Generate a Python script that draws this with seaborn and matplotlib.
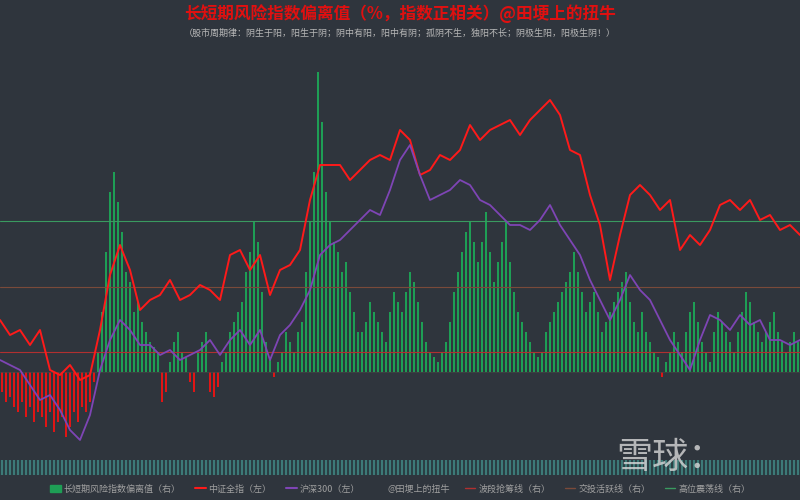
import numpy as np
import matplotlib
matplotlib.use("Agg")
import matplotlib.pyplot as plt
import seaborn as sns
from matplotlib.lines import Line2D
from matplotlib.patches import Patch

sns.set_style("dark")
plt.rcParams['font.family'] = ['Noto Sans CJK SC', 'DejaVu Sans']

BG = "#2f353d"
zz_all = [135,120,125,110,125,85,80,90,75,80,125,180,210,185,145,155,160,175,155,160,170,165,155,200,205,185,200,160,185,190,205,255,290,290,290,275,285,295,300,295,325,315,280,285,300,295,305,330,315,325,330,335,320,335,345,355,340,305,300,260,230,175,220,260,270,260,245,255,205,220,210,225,250,255,245,255,235,240,225,230,220]
hs300 = [95,90,85,70,55,60,45,25,15,40,85,115,135,125,110,110,100,105,95,100,105,115,100,115,125,110,125,95,120,130,145,165,200,210,215,225,235,245,240,265,295,310,280,255,260,265,275,270,255,250,240,230,230,225,235,250,230,215,200,175,155,135,155,180,165,155,135,115,100,85,115,140,135,125,140,130,135,115,115,110,115]
# Long/short risk deviation values (right axis)
deviation = [-20,-30,-25,-35,-40,-30,-45,-35,-50,-40,
             -45,-55,-40,-60,-50,-45,-65,-55,-40,-50,
             -35,-40,-30,-10,20,60,120,180,200,170,
             140,100,90,60,70,50,40,30,25,20,
             -30,-20,10,30,40,20,15,-10,-20,20,
             30,40,-20,-25,-15,10,20,40,50,60,
             70,100,120,150,130,80,30,15,-5,10,
             20,40,30,20,40,50,100,150,200,300,
             250,180,150,130,120,100,110,80,60,40,
             40,50,70,60,50,40,30,60,80,70,
             60,80,100,90,70,50,30,20,15,10,
             20,30,50,80,100,120,140,150,130,110,
             130,160,120,90,110,130,150,110,80,60,
             50,40,30,20,15,20,40,50,60,70,
             80,90,100,120,100,80,60,70,80,60,
             40,50,60,70,80,90,100,70,50,40,
             60,40,30,20,15,-5,10,20,40,30,
             20,40,60,70,50,30,20,10,40,60,
             50,40,30,20,40,60,80,70,50,40,
             30,40,50,60,40,30,20,30,40,30]
level_names = ["波段抢筹线（右）", "交投活跃线（右）", "高位震荡线（右）"]
level_values = [20, 85, 151]
level_colors = ["#b03030", "#7a4a3a", "#3a9a60"]

fig = plt.figure(figsize=(8, 5), dpi=100, facecolor=BG)
ax = fig.add_axes([0, 0.09, 1, 0.82], facecolor=BG)
ax2 = ax.twinx()

xb = np.arange(len(deviation))
dev = np.array(deviation)
cols = np.where(dev >= 0, "#1e9e55", "#e01515")
ax2.bar(xb, dev, width=0.6, color=cols, linewidth=0)
ax2.set_xlim(-0.5, len(deviation) - 0.5)
ax2.set_ylim(-83, 327)
for v, c in zip(level_values, level_colors):
    ax2.axhline(v, color=c, lw=0.8)
ax2.axhline(0, color="#444", lw=0.5)

xl = np.linspace(-0.5, len(deviation) - 0.5, len(zz_all))
sns.lineplot(x=xl, y=zz_all, ax=ax, color="#ff1a1a", lw=1.4, zorder=5)
sns.lineplot(x=xl, y=hs300, ax=ax, color="#7e45b5", lw=1.3, zorder=5)
ax.set_ylim(0, 410)
ax.set_xlim(-0.5, len(deviation) - 0.5)
ax.set_zorder(ax2.get_zorder() + 1)
ax.patch.set_visible(False)
for a in (ax, ax2):
    a.set_xticks([]); a.set_yticks([])
    for s in a.spines.values():
        s.set_visible(False)
    a.grid(False)

# slider strip
axs = fig.add_axes([0, 0.05, 1, 0.03], facecolor="#2b3f44")
axs.bar(xb, np.ones(len(xb)), width=0.3, color="#3d7a78", linewidth=0)
axs.set_xlim(-0.5, len(xb) - 0.5); axs.set_ylim(0, 1)
axs.set_xticks([]); axs.set_yticks([])
for s in axs.spines.values():
    s.set_visible(False)

fig.text(0.5, 0.972, "长短期风险指数偏离值（%，指数正相关）@田埂上的扭牛", ha="center", va="center",
         color="#e01010", fontsize=12, fontweight="bold")
fig.text(0.5, 0.934, "（股市周期律：阴生于阳，阳生于阴；阴中有阳，阳中有阴；孤阴不生，独阳不长；阴极生阳，阳极生阴！）",
         ha="center", va="center", color="#b8b8b8", fontsize=6.5)
fig.text(0.77, 0.085, "雪球：", color="#d8d8d8", alpha=0.8, fontsize=26, va="center")

handles = [Patch(color="#1e9e55"),
           Line2D([], [], color="#ff1a1a", lw=1.5),
           Line2D([], [], color="#7e45b5", lw=1.5),
           Line2D([], [], color=BG, lw=0),
           Line2D([], [], color=level_colors[0], lw=1),
           Line2D([], [], color=level_colors[1], lw=1),
           Line2D([], [], color=level_colors[2], lw=1)]
labels = ["长短期风险指数偏离值（右）", "中证全指（左）", "沪深300（左）", "@田埂上的扭牛"] + level_names
leg = fig.legend(handles, labels, loc="center", bbox_to_anchor=(0.5, 0.022), ncol=7, frameon=False,
                 fontsize=6.5, handlelength=1.2, columnspacing=1.6, handletextpad=0.3)
for t in leg.get_texts():
    t.set_color("#a0a0a0")

fig.savefig("out.png", dpi=100, facecolor=BG)
